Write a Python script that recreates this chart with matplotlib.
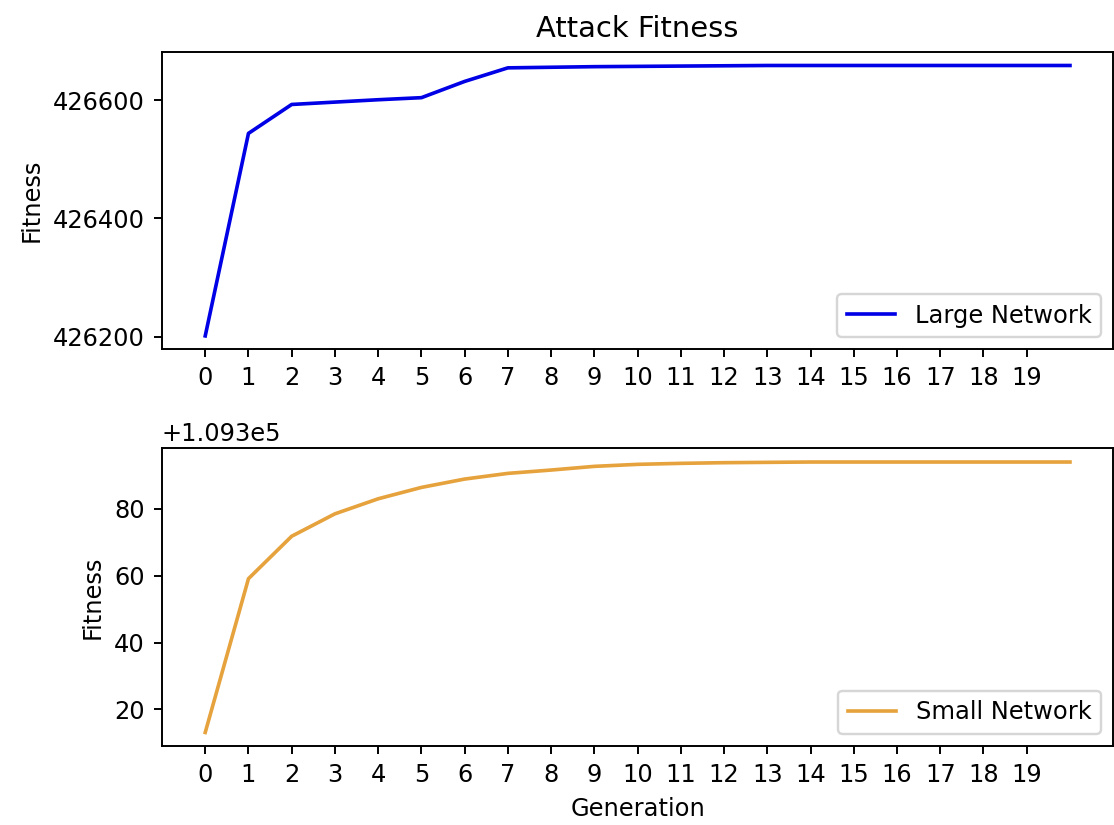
import matplotlib
matplotlib.use("Agg")
import matplotlib.pyplot as plt

generations = list(range(21))
large_fitness = [426201, 426544, 426593, 426597, 426601, 426604.5, 426632, 426655,
                 426656, 426657, 426657.5, 426658, 426658.5, 426659, 426659, 426659,
                 426659, 426659, 426659, 426659, 426659]
small_fitness = [109313.1, 109359.1, 109371.8, 109378.5, 109383.0, 109386.4, 109388.9,
                 109390.6, 109391.6, 109392.7, 109393.3, 109393.6, 109393.8, 109393.9,
                 109394.0, 109394.0, 109394.0, 109394.0, 109394.0, 109394.0, 109394.0]
xtick_labels = [str(i) for i in range(20)]

fig, (ax1, ax2) = plt.subplots(2, 1, figsize=(6.4, 4.736), dpi=174.2)
fig.subplots_adjust(left=0.1453, right=0.9985, top=0.937, bottom=0.0958, hspace=0.333)

ax1.plot(generations, large_fitness, color="#0000E6", label="Large Network")
ax1.set_title("Attack Fitness")
ax1.set_ylabel("Fitness")
ax1.set_xticks(range(20))
ax1.set_xticklabels(xtick_labels)
ax1.set_yticks([426200, 426400, 426600])
ax1.legend(loc="lower right")

ax2.plot(generations, small_fitness, color="#E6A23C", label="Small Network")
ax2.set_ylabel("Fitness")
ax2.set_xlabel("Generation")
ax2.set_xticks(range(20))
ax2.set_xticklabels(xtick_labels)
ax2.legend(loc="lower right")

fig.savefig("out.png", dpi=174.2)
